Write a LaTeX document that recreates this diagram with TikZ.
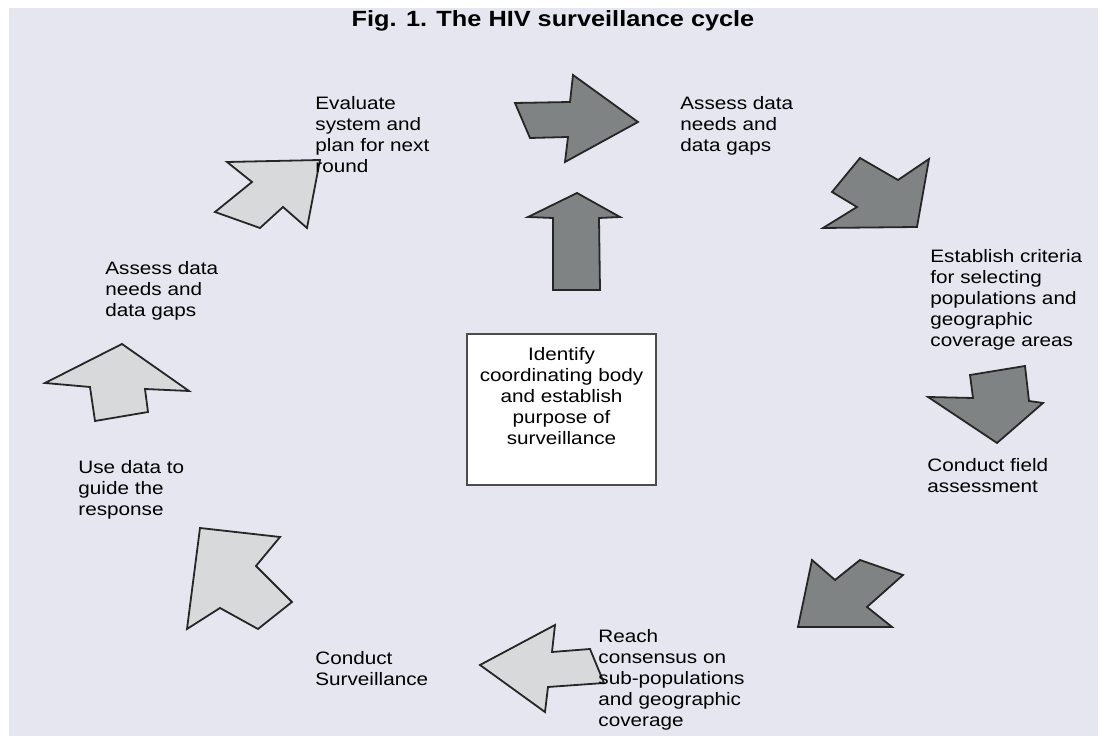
\documentclass[tikz,border=0pt]{standalone}
\usepackage{fontspec}
\setmainfont{Liberation Sans}[FakeStretch=1.15]
\begin{document}
\begin{tikzpicture}[
        x=0.5pt, y=-0.5pt,
        panel/.style={fill=panelbg, draw=none},
        darkarrow/.style={fill=arrowdark, draw=black!85, line width=0.9pt, line join=miter},
        lightarrow/.style={fill=arrowlight, draw=black!85, line width=0.9pt, line join=miter},
        steptext/.style={anchor=north west, inner sep=0pt, align=left, font=\fontsize{9}{10.5}\selectfont},
        centerbox/.style={draw=black!70, fill=white, line width=0.7pt, minimum width=94.5pt, minimum height=75.5pt, inner sep=0pt}
    ]
        \definecolor{panelbg}{RGB}{230,230,240}
        \definecolor{arrowdark}{RGB}{128,131,131}
        \definecolor{arrowlight}{RGB}{216,217,219}
        \useasboundingbox (0,0) rectangle (1105,742);
        \fill[white] (0,0) rectangle (1105,742);
        \path[panel] (9,8) rectangle (1098,736);

        % Title
        \node[font=\fontsize{11}{12}\selectfont\bfseries] (title) at (553,21) {Fig. 1. The HIV surveillance cycle};

        % Centre box
        \node[centerbox] (purpose) at (561.5,409.5) {};
        \node[align=center, inner sep=0pt, font=\fontsize{9}{10.5}\selectfont] (purposetext) at (561.5,396) {
            Identify\\
            coordinating body\\
            and establish\\
            purpose of\\
            surveillance
        };

        % Dark arrows
        \draw[darkarrow] (553,290) -- (553,218) -- (528,217) -- (577,193) -- (620,217) -- (599,218) -- (600,290) -- cycle;
        \draw[darkarrow] (515,103) -- (570,102) -- (573,75) -- (638,122) -- (565,162) -- (568,137) -- (530,138) -- cycle;
        \draw[darkarrow] (860,158) -- (898,180) -- (929,159) -- (917,227) -- (823,228) -- (857,207) -- (832,192) -- cycle;
        \draw[darkarrow] (970,375) -- (1025,366) -- (1029,401) -- (1043,403) -- (997,443) -- (928,397) -- (973,398) -- cycle;
        \draw[darkarrow] (812,560) -- (835,580) -- (860,560) -- (903,575) -- (867,607) -- (892,627) -- (798,627) -- cycle;

        % Light arrows
        \draw[lightarrow] (480,665) -- (555,625) -- (552,652) -- (590,649) -- (604,683) -- (548,687) -- (545,712) -- cycle;
        \draw[lightarrow] (200,528) -- (280,537) -- (256,566) -- (292,602) -- (258,629) -- (220,608) -- (187,629) -- cycle;
        \draw[lightarrow] (45,383) -- (122,344) -- (189,391) -- (145,389) -- (148,412) -- (95,421) -- (90,387) -- cycle;
        \draw[lightarrow] (227,162) -- (320,160) -- (307,228) -- (283,207) -- (260,228) -- (215,212) -- (252,182) -- cycle;

        % Step labels
        \node[steptext] (evaluate) at (315,96) {Evaluate\\system and\\plan for next\\round};
        \node[steptext] (assesstop) at (680,96) {Assess data\\needs and\\data gaps};
        \node[steptext] (criteria) at (930,249) {Establish criteria\\for selecting\\populations and\\geographic\\coverage areas};
        \node[steptext] (field) at (927,458) {Conduct field\\assessment};
        \node[steptext] (consensus) at (598,629) {Reach\\consensus on\\sub-populations\\and geographic\\coverage};
        \node[steptext] (surveil) at (315,651) {Conduct\\Surveillance};
        \node[steptext] (usedata) at (78,460) {Use data to\\guide the\\response};
        \node[steptext] (assessleft) at (105,261) {Assess data\\needs and\\data gaps};
    \end{tikzpicture}
\end{document}
